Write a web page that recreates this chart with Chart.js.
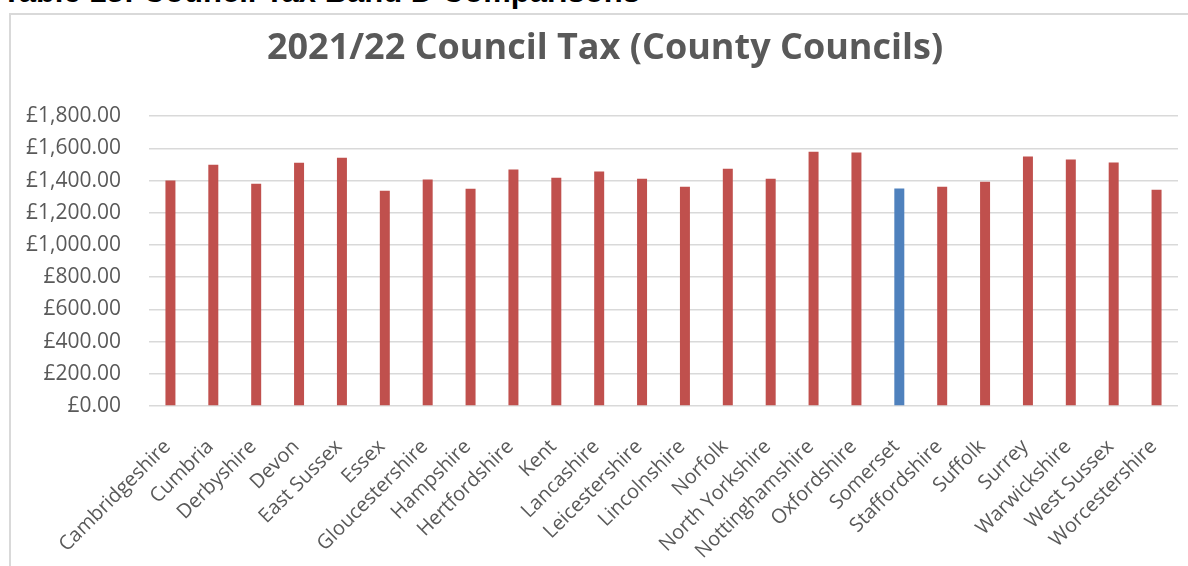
<!DOCTYPE html>
<html>
<head>
<meta charset="utf-8">
<script src="https://cdn.jsdelivr.net/npm/chart.js@4.4.1/dist/chart.umd.min.js"></script>
<style>
  html, body { margin: 0; padding: 0; background: #fff; }
  body { width: 1188px; height: 566px; position: relative; overflow: hidden; }
  #heading {
    position: absolute; left: 2px; top: -24px;
    font: bold 31px "Liberation Sans", Arial, sans-serif; line-height: 31px;
    color: #000; white-space: nowrap;
  }
  #frame {
    position: absolute; left: 9px; top: 13px; width: 1200px; height: 600px;
    border: 2px solid #d9d9d9; box-sizing: border-box;
  }
  #wrap { position: absolute; left: 0; top: 0; width: 1188px; height: 566px; }
</style>
</head>
<body>
<div id="heading">Table 13: Council Tax Band D Comparisons</div>
<div id="frame"></div>
<div id="wrap"><canvas id="taxChart"></canvas></div>
<script>
const councils = [
  "Cambridgeshire", "Cumbria", "Derbyshire", "Devon", "East Sussex", "Essex",
  "Gloucestershire", "Hampshire", "Hertfordshire", "Kent", "Lancashire",
  "Leicestershire", "Lincolnshire", "Norfolk", "North Yorkshire",
  "Nottinghamshire", "Oxfordshire", "Somerset", "Staffordshire", "Suffolk",
  "Surrey", "Warwickshire", "West Sussex", "Worcestershire"
];
const bandD = [
  1399.86, 1499.13, 1381.14, 1511.55, 1542.51, 1337.13,
  1406.34, 1349.73, 1468.39, 1418.13, 1456.13,
  1411.91, 1362.15, 1474.02, 1412.09,
  1579.95, 1574.11, 1350.22, 1362.04, 1393.29,
  1549.17, 1530.54, 1511.82, 1343.06
];
const highlighted = "Somerset";
const yTicks = [0, 200, 400, 600, 800, 1000, 1200, 1400, 1600, 1800];

const red = "#C0504D";
const blue = "#4F81BD";
const textGrey = "#595959";

function money(v) {
  return "£" + v.toLocaleString("en-GB", { minimumFractionDigits: 2, maximumFractionDigits: 2 });
}

const ctx = document.getElementById("taxChart").getContext("2d");
new Chart(ctx, {
  type: "bar",
  data: {
    labels: councils,
    datasets: [{
      label: "Band D",
      data: bandD,
      backgroundColor: councils.map(c => c === highlighted ? blue : red),
      categoryPercentage: 1,
      barPercentage: 0.233
    }]
  },
  options: {
    responsive: true,
    maintainAspectRatio: false,
    animation: false,
    layout: { padding: { left: 22, right: 0, top: 14, bottom: 0 } },
    plugins: {
      legend: { display: false },
      tooltip: { enabled: false },
      title: {
        display: true,
        text: "2021/22 Council Tax (County Councils)",
        color: textGrey,
        font: { family: "'Open Sans'", size: 36, weight: "bold", lineHeight: 1.2 },
        padding: { top: 13, bottom: 46 }
      }
    },
    scales: {
      x: {
        grid: { display: false },
        border: { display: false },
        ticks: {
          color: textGrey,
          font: { family: "'Open Sans'", size: 20 },
          autoSkip: false,
          minRotation: 45,
          maxRotation: 45,
          padding: 21,
          labelOffset: -3
        },
        afterFit: scale => {
          scale.height = 160;
          scale.paddingLeft = 0;
          scale.paddingRight = 10;
        }
      },
      y: {
        min: 0,
        max: 1800,
        afterBuildTicks: scale => { scale.ticks = yTicks.map(v => ({ value: v })); },
        grid: { color: "#d9d9d9", lineWidth: 1.5, drawTicks: false },
        border: { display: false },
        ticks: {
          color: textGrey,
          font: { family: "'Open Sans'", size: 21 },
          padding: 28,
          callback: v => money(v)
        },
        afterFit: scale => { scale.width = 127; }
      }
    }
  }
});
</script>
</body>
</html>
